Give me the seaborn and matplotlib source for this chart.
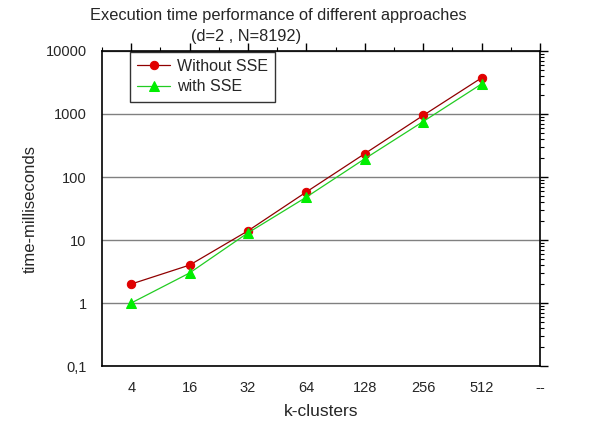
import matplotlib
matplotlib.use("Agg")
import matplotlib.pyplot as plt
import seaborn as sns
import numpy as np
import pandas as pd
from matplotlib.ticker import LogLocator, NullFormatter, FixedLocator

# data
k_labels = ["4", "16", "32", "64", "128", "256", "512", "--"]
without_sse = [2, 4, 14, 58, 235, 950, 3750]
with_sse = [1, 3, 13, 48, 195, 760, 3000]
y_ticks = [0.1, 1, 10, 100, 1000, 10000]
y_labels = ["0,1", "1", "10", "100", "1000", "10000"]

sns.set_style("white")
plt.rcParams["font.family"] = ["Liberation Sans", "DejaVu Sans"]

pos = np.arange(len(without_sse))
df = pd.DataFrame({
    "pos": np.concatenate([pos, pos]),
    "time": without_sse + with_sse,
    "series": ["Without SSE"] * len(pos) + ["with SSE"] * len(pos),
})

fig = plt.figure(figsize=(5.9, 4.26), dpi=100)
ax = fig.add_axes([0.1729, 0.1408, 0.7424, 0.7395])

sns.lineplot(data=df[df.series == "Without SSE"], x="pos", y="time", ax=ax,
             color="#900000", lw=0.9, marker="o", markersize=6,
             markerfacecolor="#e00000", markeredgecolor="#e00000",
             label="Without SSE")
sns.lineplot(data=df[df.series == "with SSE"], x="pos", y="time", ax=ax,
             color="#22cc22", lw=0.9, marker="^", markersize=6.5,
             markerfacecolor="#00ee00", markeredgecolor="#00ee00",
             label="with SSE")

ax.set_yscale("log")
ax.set_ylim(0.1, 10000)
ax.set_xlim(-0.5, 7)
ax.set_yticks(y_ticks)
ax.set_yticklabels(y_labels)
ax.yaxis.set_minor_locator(LogLocator(base=10, subs=np.arange(2, 10)))
ax.yaxis.set_minor_formatter(NullFormatter())
ax.set_xticks(np.arange(len(k_labels)))
ax.set_xticklabels(k_labels)
ax.xaxis.set_minor_locator(FixedLocator(np.arange(-0.5, 7, 1.0)))

ax.grid(axis="y", which="major", color="#808080", lw=1)
ax.grid(axis="x", visible=False)
for s in ax.spines.values():
    s.set_visible(True)
    s.set_color("black")
    s.set_linewidth(1.2)

ax.tick_params(which="both", direction="out", top=True, right=True,
               labeltop=False, labelright=False, color="black", labelsize=10.5)
ax.tick_params(which="major", length=6, width=1, pad=5)
ax.tick_params(which="minor", length=3, width=0.8)

ax.set_xlabel("k-clusters", fontsize=12.5, labelpad=6)
ax.set_ylabel("time-milliseconds", fontsize=12, labelpad=6)

fig.text(0.471, 0.963, "Execution time performance of different approaches",
         ha="center", va="center", fontsize=11.8)
fig.text(0.417, 0.915, "(d=2 , N=8192)", ha="center", va="center", fontsize=11.8)

leg = ax.legend(loc="upper left", bbox_to_anchor=(0.063, 0.998), frameon=True,
                fancybox=False, edgecolor="black", fontsize=11.5,
                handlelength=2.1, borderpad=0.45, labelspacing=0.35,
                handletextpad=0.4, borderaxespad=0)
leg.get_frame().set_linewidth(1.0)

fig.savefig("out.png", dpi=100)
